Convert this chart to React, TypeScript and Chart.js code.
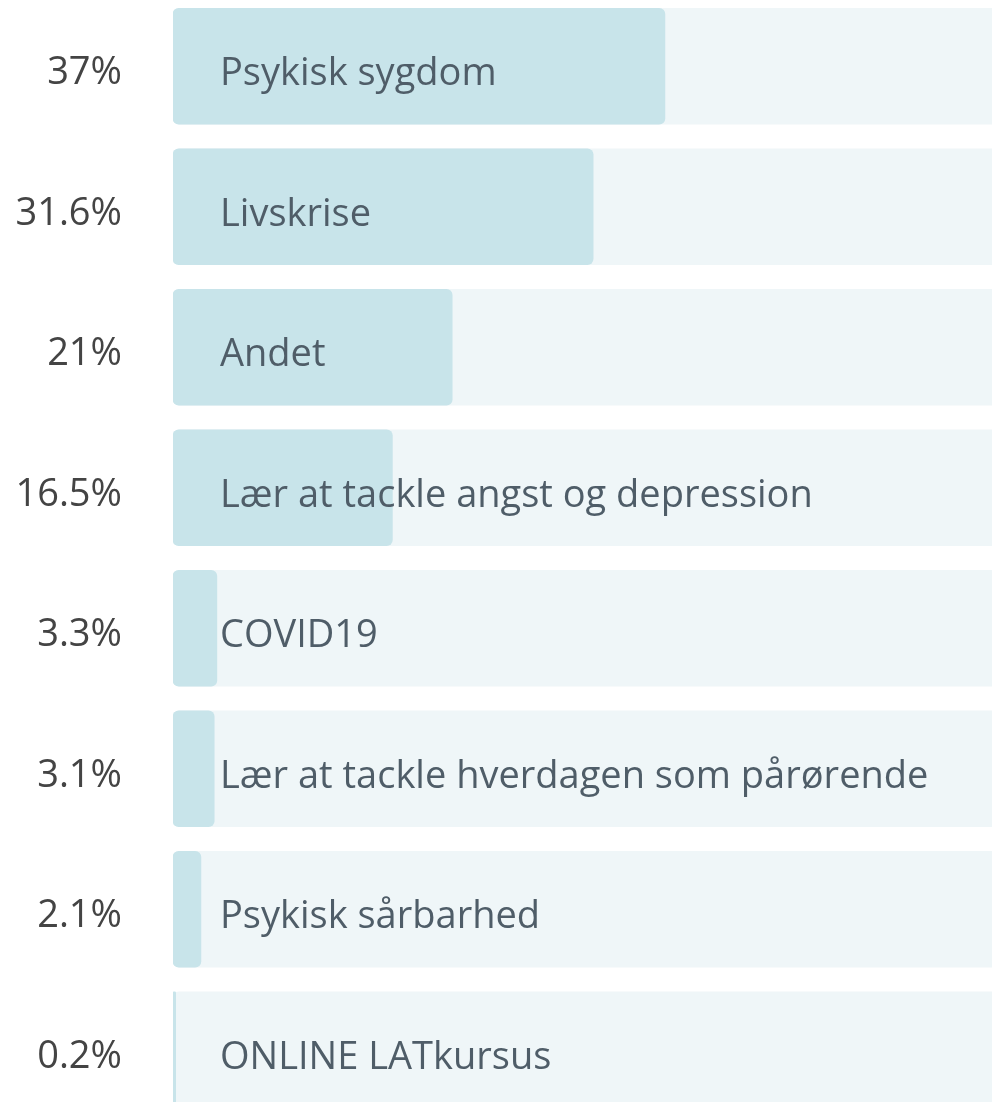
import React, { useEffect, useRef } from "react";
import { Chart, registerables } from "chart.js";

Chart.register(...registerables);

const CATEGORIES = [
  "Psykisk sygdom",
  "Livskrise",
  "Andet",
  "Lær at tackle angst og depression",
  "COVID19",
  "Lær at tackle hverdagen som pårørende",
  "Psykisk sårbarhed",
  "ONLINE LATkursus",
];
const VALUES = [37, 31.6, 21, 16.5, 3.3, 3.1, 2.1, 0.2];
const TRACK = [100, 100, 100, 100, 100, 100, 100, 100];
const TICK_LABELS = VALUES.map((v) => `${v}%`);

const FONT = "'Open Sans', 'Noto Sans', sans-serif";
const FILL = "rgb(200,228,234)";
const TRACK_COLOR = "rgb(239,246,248)";

const insideLabels = {
  id: "insideLabels",
  afterDatasetsDraw(chart: any) {
    const meta = chart.getDatasetMeta(1);
    const ctx = chart.ctx;
    ctx.save();
    ctx.font = `38px ${FONT}`;
    ctx.fillStyle = "#4f5d68";
    ctx.textAlign = "left";
    ctx.textBaseline = "middle";
    meta.data.forEach((bar: any, i: number) => {
      ctx.fillText(CATEGORIES[i], chart.chartArea.left + 47, bar.y + 8);
    });
    ctx.restore();
  },
};

export default function App() {
  const ref = useRef<HTMLCanvasElement>(null);
  useEffect(() => {
    if (!ref.current) return;
    const chart = new Chart(ref.current, {
      type: "bar",
      data: {
        labels: TICK_LABELS,
        datasets: [
          {
            data: TRACK,
            backgroundColor: TRACK_COLOR,
            borderRadius: 6,
            borderSkipped: false,
            barThickness: 116,
            grouped: false,
            order: 2,
            clip: 0,
          } as any,
          {
            data: VALUES,
            backgroundColor: FILL,
            borderRadius: 6,
            borderSkipped: false,
            barThickness: 116,
            grouped: false,
            order: 1,
          } as any,
        ],
      },
      options: {
        indexAxis: "y",
        responsive: false,
        animation: false,
        layout: { padding: 0 },
        plugins: { legend: { display: false }, tooltip: { enabled: false } },
        scales: {
          x: { display: false, min: 0, max: 61.6 },
          y: {
            grid: { display: false, drawTicks: false },
            border: { display: false },
            ticks: {
              padding: 51,
              labelOffset: 7,
              color: "#444444",
              font: { family: FONT, size: 38 },
            },
            afterFit(axis: any) {
              axis.width = 173;
              axis.paddingTop = 0;
              axis.paddingBottom = 0;
            },
          },
        },
      },
      plugins: [insideLabels],
    });
    return () => chart.destroy();
  }, []);
  return (
    <div style={{ position: "absolute", left: 0, top: -4, width: 992, height: 1124 }}>
      <canvas ref={ref} width={992} height={1124} style={{ display: "block" }} />
    </div>
  );
}
